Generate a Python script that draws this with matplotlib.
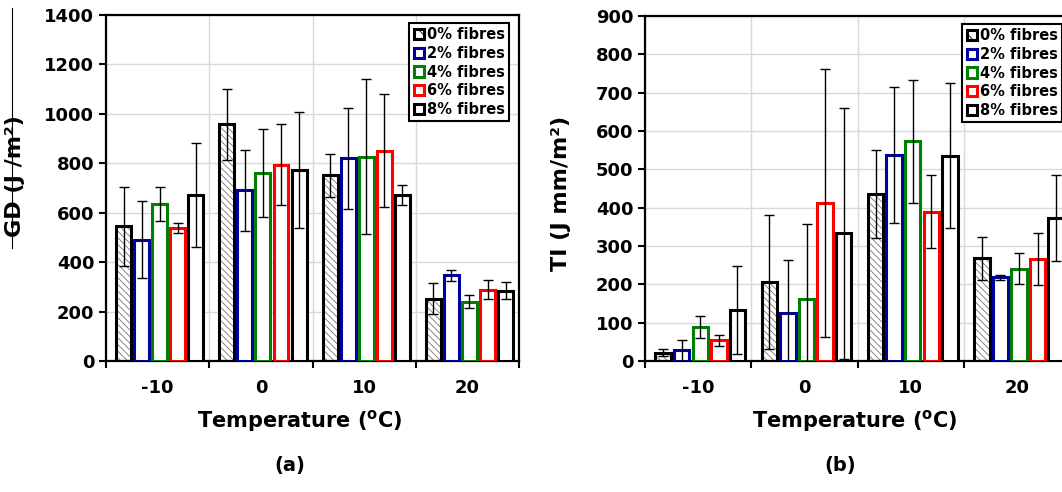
import numpy as np
import matplotlib
matplotlib.use("Agg")
import matplotlib.pyplot as plt
from matplotlib.lines import Line2D
from matplotlib.patches import Patch

# temperatures on the x axis and the fibre contents (one bar each per group)
temps = ['-10', '0', '10', '20']
fibres = ['0% fibres', '2% fibres', '4% fibres', '6% fibres', '8% fibres']
colours = ['black', '#0000a0', '#008000', '#ff0000', 'black']

# (a) GD in J/m2, one list per fibre content
gd_mean = [
    [545, 957, 751, 252],
    [491, 690, 821, 346],
    [636, 759, 827, 240],
    [537, 794, 851, 288],
    [673, 774, 673, 284],
]
gd_err = [
    [160, 145, 87, 63],
    [155, 165, 204, 22],
    [70, 178, 313, 27],
    [20, 163, 229, 38],
    [210, 234, 41, 35],
]

# (b) TI in J mm/m2
ti_mean = [
    [22, 206, 436, 268],
    [28, 126, 537, 218],
    [89, 161, 573, 241],
    [54, 413, 389, 266],
    [134, 333, 536, 373],
]
ti_err = [
    [10, 174, 115, 56],
    [27, 138, 177, 7],
    [28, 197, 161, 41],
    [14, 350, 95, 67],
    [115, 328, 190, 112],
]

plt.rcParams['font.family'] = ['DejaVu Sans']
plt.rcParams['font.weight'] = 'bold'
plt.rcParams['hatch.linewidth'] = 0.6

HATCH = '\\\\\\\\\\'


def draw_panel(ax, means, errs, ymax, ystep, ylabel):
    x = np.arange(len(temps))
    pitch = 0.175
    width = 0.145
    for i, (m, e) in enumerate(zip(means, errs)):
        pos = x + (i - 2) * pitch + 0.02
        if i == 0:
            # hatched fill first (grey hatch), then the black outline on top
            ax.bar(pos, m, width, color='white', edgecolor='#777777',
                   hatch=HATCH, linewidth=0, zorder=2)
            ax.bar(pos, m, width, fill=False, edgecolor=colours[i],
                   linewidth=2.2, zorder=3)
        else:
            ax.bar(pos, m, width, color='white', edgecolor=colours[i],
                   linewidth=2.2, zorder=3)
        ax.errorbar(pos, m, yerr=e, fmt='none', ecolor='black',
                    elinewidth=1, capsize=3.5, capthick=1, zorder=4)

    ax.set_xlim(-0.5, len(temps) - 0.5)
    ax.set_ylim(0, ymax)
    ax.set_yticks(np.arange(0, ymax + 1, ystep))
    ax.set_xticks(np.arange(len(temps) + 1) - 0.5)
    ax.set_xticklabels([])
    ax.set_xticks(x, minor=True)
    ax.set_xticklabels(temps, minor=True)
    ax.tick_params(axis='x', which='minor', length=0, pad=13, labelsize=13)
    ax.tick_params(axis='x', which='major', direction='out', length=5, width=1.5)
    ax.tick_params(axis='y', direction='out', length=5, width=1.5, labelsize=13)
    for lab in ax.get_xticklabels(minor=True) + ax.get_yticklabels():
        lab.set_fontweight('bold')
    ax.grid(True, which='major', color='#d9d9d9', linewidth=1.0, zorder=0)
    ax.set_axisbelow(True)
    for sp in ax.spines.values():
        sp.set_linewidth(1.6)
    ax.set_xlabel('Temperature ($^{\\mathbf{o}}$C)', fontsize=15, fontweight='bold')
    ax.set_ylabel(ylabel, fontsize=16, fontweight='bold')


fig = plt.figure(figsize=(10.62, 4.92), dpi=100)
ax1 = fig.add_axes([106 / 1062, 1 - 361 / 492, 413 / 1062, 346 / 492])
ax2 = fig.add_axes([645 / 1062, 1 - 361 / 492, 425 / 1062, 345 / 492])

draw_panel(ax1, gd_mean, gd_err, 1400, 200, 'GD (J /m²)')
draw_panel(ax2, ti_mean, ti_err, 900, 100, 'TI (J mm/m²)')

ax1.xaxis.set_label_coords(0.47, -0.135)
ax2.xaxis.set_label_coords(0.494, -0.135)
ax1.yaxis.set_label_coords(-0.196, 0.535)
ax2.yaxis.set_label_coords(-0.173, 0.487)

for ax, anchor in [(ax1, (0.976, 0.977)), (ax2, (0.982, 0.977))]:
    handles = [Patch(facecolor='white', edgecolor=c, linewidth=2.2)
               for c in colours]
    handles[0] = Patch(facecolor='white', edgecolor='black', linewidth=2.2,
                       hatch='\\\\\\')
    leg = ax.legend(handles, fibres, loc='upper right', bbox_to_anchor=anchor,
                    fancybox=False, framealpha=1, edgecolor='black',
                    prop={'size': 10.5, 'weight': 'bold'},
                    handlelength=0.7, handleheight=0.7, handletextpad=0.2,
                    labelspacing=0.25, borderpad=0.3, borderaxespad=0)
    leg.get_frame().set_linewidth(1.5)
    leg.set_zorder(10)

fig.text(290 / 1062, 1 - 465 / 492, '(a)', ha='center', va='center',
         fontsize=14, fontweight='bold')
fig.text(840 / 1062, 1 - 465 / 492, '(b)', ha='center', va='center',
         fontsize=14, fontweight='bold')

# stray rule at the far left of the scanned figure
fig.add_artist(Line2D([12 / 1062, 12 / 1062], [1 - 8 / 492, 1 - 248 / 492],
                      color='black', linewidth=0.8))

fig.savefig('out.png', dpi=100)
